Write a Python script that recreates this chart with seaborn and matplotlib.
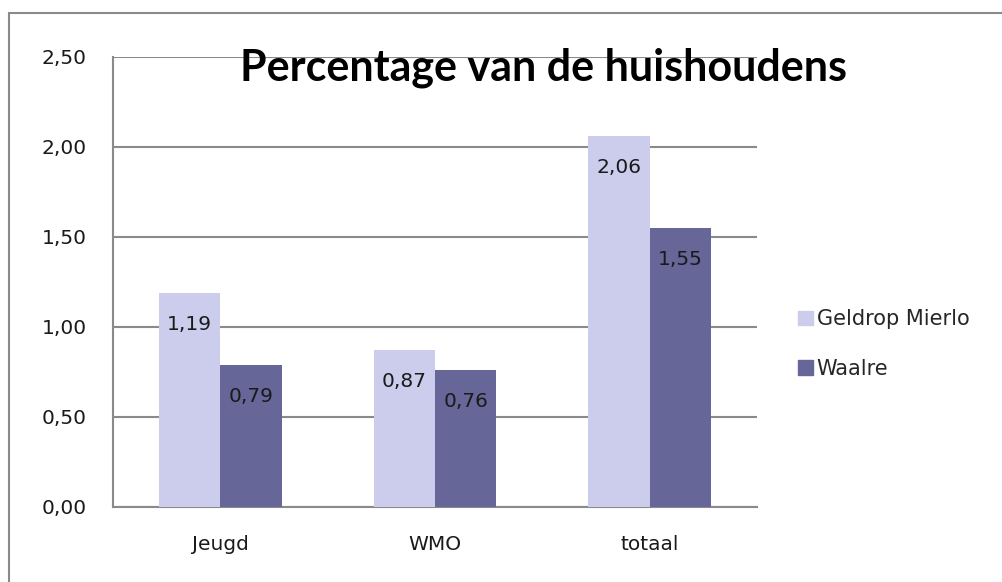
import numpy as np
import pandas as pd
import matplotlib
matplotlib.use("Agg")
import matplotlib.pyplot as plt
from matplotlib.lines import Line2D
import seaborn as sns

# ----------------------------
# Data
# ----------------------------
categories = ["Jeugd", "WMO", "totaal"]
series_names = ["Geldrop Mierlo", "Waalre"]
geldrop_mierlo = [1.19, 0.87, 2.06]
waalre = [0.79, 0.76, 1.55]
y_ticks = [0.0, 0.5, 1.0, 1.5, 2.0, 2.5]
colors = ["#ccccec", "#666699"]

df = pd.DataFrame({
    "categorie": categories * 2,
    "gemeente": [series_names[0]] * 3 + [series_names[1]] * 3,
    "waarde": geldrop_mierlo + waalre,
})

def nl(v):
    return f"{v:.2f}".replace(".", ",")

# ----------------------------
# Plot
# ----------------------------
sns.set_style("white")
plt.rcParams["font.family"] = ["DejaVu Sans"]
FS = 14.5
TXT = "#1a1a1a"
GRID = "#8a8a8a"

fig = plt.figure(figsize=(10.03, 5.82), dpi=100)
ax = fig.add_axes([113 / 1003, 1 - 507 / 582, (757 - 113) / 1003, (507 - 57) / 582])

sns.barplot(data=df, x="categorie", y="waarde", hue="gemeente",
            palette=colors, width=0.57, saturation=1, linewidth=0,
            ax=ax, zorder=3)

ax.set_ylim(0, 2.5)
ax.set_xlim(-0.5, 2.5)
ax.set_yticks(y_ticks)
ax.set_yticklabels([nl(t) for t in y_ticks], fontsize=FS, color=TXT)
ax.set_xlabel("")
ax.set_ylabel("")
ax.tick_params(axis="y", length=7, width=1.5, color=GRID, direction="out", pad=12)
ax.tick_params(axis="x", which="major", length=0, pad=20, labelsize=FS, labelcolor=TXT)
ax.set_xticks([-0.5, 0.5, 1.5, 2.5], minor=True)
ax.tick_params(axis="x", which="minor", length=6, width=1.5, color=GRID, direction="out")
ax.yaxis.grid(True, color=GRID, lw=1.5, zorder=0)
ax.set_axisbelow(True)

for s in ["top", "right"]:
    ax.spines[s].set_visible(False)
for s in ["left", "bottom"]:
    ax.spines[s].set_color(GRID)
    ax.spines[s].set_linewidth(1.5)

# data labels inside the bars, near the top
for cont in ax.containers:
    for bar in cont:
        h = bar.get_height()
        ax.annotate(nl(h), (bar.get_x() + bar.get_width() / 2, h),
                    xytext=(0, -22.5), textcoords="offset points",
                    ha="center", va="center", fontsize=FS, color=TXT, zorder=5)

ax.get_legend().remove()
handles = [plt.Rectangle((0, 0), 1, 1, color=c) for c in colors]
fig.legend(handles, series_names, loc="center left",
           bbox_to_anchor=(798 / 1003, 1 - 344 / 582), frameon=False,
           fontsize=15, handlelength=0.7, handleheight=0.7, handletextpad=0.2,
           labelspacing=1.4, borderaxespad=0, borderpad=0)

fig.text(544 / 1003, 1 - 80 / 582, "Percentage van de huishoudens",
         ha="center", va="baseline", fontsize=31, fontweight="bold",
         family=["Lato", "DejaVu Sans"], color="black")

# chart area border (left and top edges visible)
fig.add_artist(Line2D([9 / 1003, 9 / 1003], [0, 1 - 13 / 582],
                      transform=fig.transFigure, color=GRID, lw=1.5))
fig.add_artist(Line2D([9 / 1003, 1.0], [1 - 13 / 582, 1 - 13 / 582],
                      transform=fig.transFigure, color=GRID, lw=1.5))

fig.savefig("out.png", dpi=100)
